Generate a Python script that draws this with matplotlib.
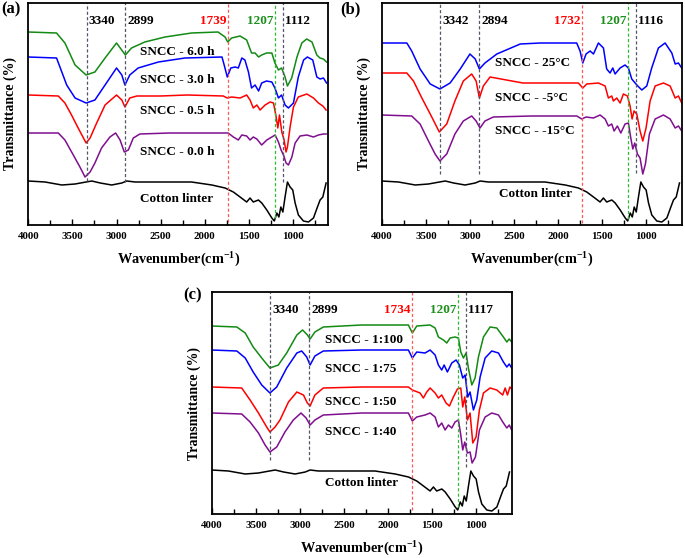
import matplotlib
matplotlib.use("Agg")
import matplotlib.pyplot as plt
from matplotlib.ticker import MultipleLocator

plt.rcParams["font.family"] = ["Liberation Serif", "DejaVu Serif"]
plt.rcParams["font.weight"] = "bold"

# ---- data (wavenumber cm-1, transmittance in arbitrary offset units) ----

# cotton linter, same spectrum in all three panels
cotton_wn = [4000, 3810, 3620, 3470, 3345, 3280, 3185, 3055, 2940, 2885, 2790, 2525, 2150, 1920,
             1770, 1676, 1600, 1525, 1487, 1450, 1392, 1354, 1297, 1240, 1212, 1183, 1160, 1138,
             1115, 1090, 1063, 1033, 1003, 976, 939, 882, 825, 768, 723, 693, 662, 625]
cotton_t = [44, 43, 40, 41, 43, 44, 42, 40, 42, 44, 43, 43, 43, 40,
            37, 33, 28, 23, 27, 23, 25, 22, 15, 7, 4, 12, 8, 18,
            13, 28, 43, 38, 35, 22, 10, 4, 3, 7, 18, 25, 28, 42]

# (a) reaction time
a6h_wn = [4000, 3680, 3585, 3470, 3345, 3245, 3130, 3000, 2900, 2830, 2680, 2450, 2150, 1850, 1770,
          1740, 1695, 1600, 1525, 1470, 1430, 1390, 1355, 1300, 1240, 1205, 1165, 1130, 1090, 1063,
          1015, 955, 900, 845, 785, 730, 695, 655, 620]
a6h_t = [193, 192, 182, 160, 150, 153, 167, 182, 170, 177, 183, 188, 192, 193, 188,
         183, 187, 189, 185, 172, 172, 168, 170, 172, 172, 162, 155, 157, 148, 139,
         147, 168, 182, 186, 183, 170, 167, 166, 163]

a3h_wn = [4000, 3680, 3620, 3565, 3470, 3345, 3245, 3130, 3000, 2940, 2905, 2850, 2755, 2525, 2225,
          1805, 1780, 1745, 1705, 1655, 1620, 1580, 1545, 1505, 1470, 1430, 1390, 1355, 1300, 1240,
          1205, 1165, 1130, 1090, 1052, 995, 940, 880, 837, 776, 730, 693, 655, 620]
a3h_t = [168, 167, 153, 140, 127, 122, 125, 140, 157, 150, 140, 150, 157, 163, 167,
         168, 160, 148, 157, 158, 157, 167, 165, 153, 137, 140, 134, 142, 144, 143,
         137, 127, 130, 120, 117, 122, 148, 165, 168, 165, 148, 146, 147, 142]

a05h_wn = [4000, 3660, 3585, 3510, 3435, 3345, 3300, 3225, 3130, 3000, 2940, 2905, 2850, 2770, 2500,
           2200, 1790, 1745, 1695, 1600, 1525, 1487, 1450, 1410, 1373, 1316, 1260, 1221, 1191, 1172,
           1153, 1127, 1101, 1079, 1063, 1033, 995, 940, 843, 768, 712, 662, 625]
a05h_t = [130, 129, 122, 110, 97, 82, 87, 102, 120, 130, 125, 118, 127, 129, 129,
          130, 129, 127, 128, 127, 130, 125, 117, 120, 115, 120, 123, 122, 108, 97,
          110, 93, 85, 73, 78, 98, 118, 128, 131, 127, 122, 119, 115]

a0h_wn = [4000, 3660, 3585, 3490, 3415, 3357, 3300, 3245, 3170, 3075, 3010, 2960, 2912, 2866, 2810,
          2735, 2400, 2054, 1735, 1676, 1620, 1580, 1525, 1487, 1450, 1410, 1355, 1297, 1240, 1203,
          1165, 1135, 1108, 1079, 1052, 1013, 976, 920, 843, 768, 712, 655, 625]
a0h_t = [92, 92, 85, 70, 58, 48, 53, 62, 77, 88, 92, 85, 73, 75, 87,
         91, 92, 92, 92, 88, 85, 90, 89, 85, 88, 86, 80, 85, 88, 90,
         83, 75, 70, 62, 60, 68, 82, 89, 90, 88, 90, 91, 91]

# (b) temperature
b25_wn = [4000, 3715, 3660, 3565, 3450, 3340, 3225, 3110, 3000, 2940, 2893, 2830, 2695, 2430, 2200,
          1790, 1752, 1721, 1684, 1638, 1600, 1544, 1487, 1450, 1412, 1381, 1355, 1298, 1242, 1204,
          1166, 1128, 1098, 1052, 996, 940, 864, 788, 712, 674, 637, 600]
b25_t = [182, 182, 174, 156, 141, 136, 142, 156, 171, 166, 156, 162, 171, 181, 182,
         182, 174, 162, 171, 174, 171, 182, 177, 156, 152, 157, 151, 157, 160, 157,
         146, 142, 139, 135, 139, 157, 177, 182, 172, 161, 162, 157]

bm5_wn = [4000, 3715, 3640, 3545, 3450, 3347, 3263, 3170, 3075, 2980, 2930, 2893, 2848, 2772, 2400,
          1771, 1721, 1676, 1544, 1468, 1431, 1393, 1374, 1336, 1298, 1261, 1215, 1185, 1162, 1140,
          1109, 1072, 1041, 1004, 958, 901, 807, 731, 674, 637, 600]
bm5_t = [152, 152, 144, 127, 111, 93, 101, 124, 144, 151, 144, 127, 139, 148, 142,
         142, 137, 141, 142, 139, 127, 129, 124, 127, 122, 131, 129, 119, 106, 114,
         111, 94, 84, 97, 124, 139, 142, 139, 127, 129, 122]

bm15_wn = [4000, 3660, 3565, 3470, 3395, 3340, 3263, 3170, 3075, 2980, 2930, 2886, 2830, 2735, 2300,
           1789, 1733, 1684, 1600, 1525, 1468, 1431, 1393, 1366, 1329, 1290, 1242, 1204, 1177, 1154,
           1132, 1102, 1072, 1041, 1011, 966, 901, 807, 731, 674, 637, 600]
bm15_t = [110, 109, 101, 84, 71, 64, 71, 91, 104, 109, 104, 97, 104, 108, 109,
          109, 106, 108, 107, 110, 106, 99, 101, 94, 99, 92, 101, 102, 87, 76,
          82, 71, 67, 51, 61, 91, 106, 110, 106, 97, 99, 94]

# (c) ratio
c100_wn = [4000, 3715, 3620, 3530, 3415, 3340, 3245, 3150, 3035, 2970, 2915, 2885, 2830, 2735, 2300,
           1771, 1726, 1676, 1525, 1468, 1431, 1374, 1336, 1298, 1242, 1204, 1177, 1147, 1117, 1091,
           1052, 1015, 977, 920, 845, 769, 694, 655, 628, 600]
c100_t = [188, 187, 181, 167, 154, 146, 149, 161, 179, 184, 179, 175, 182, 187, 189,
          189, 181, 188, 189, 186, 177, 174, 171, 176, 177, 176, 162, 156, 161, 146,
          129, 136, 157, 177, 187, 186, 177, 172, 175, 172]

c75_wn = [4000, 3715, 3620, 3530, 3433, 3340, 3263, 3150, 3035, 2980, 2923, 2885, 2830, 2735, 2300,
          1771, 1726, 1676, 1582, 1525, 1468, 1431, 1393, 1366, 1329, 1279, 1230, 1193, 1155, 1128,
          1098, 1072, 1034, 996, 958, 901, 826, 750, 694, 655, 628, 600]
c75_t = [164, 163, 156, 142, 129, 121, 127, 146, 161, 163, 157, 149, 158, 163, 164,
         164, 156, 162, 161, 164, 159, 149, 144, 149, 142, 151, 154, 149, 136, 139,
         117, 122, 104, 114, 137, 156, 163, 161, 152, 147, 150, 146]

c50_wn = [4000, 3660, 3565, 3470, 3377, 3340, 3282, 3226, 3130, 3035, 2960, 2916, 2885, 2830, 2735,
          2300, 1771, 1726, 1638, 1601, 1563, 1525, 1468, 1431, 1393, 1344, 1306, 1261, 1215, 1177,
          1155, 1132, 1102, 1072, 1041, 1004, 966, 920, 845, 769, 702, 674, 648, 620, 600]
c50_t = [127, 126, 114, 101, 87, 82, 87, 94, 112, 122, 119, 111, 108, 119, 126,
         127, 127, 124, 121, 116, 122, 126, 121, 116, 119, 111, 108, 117, 125, 126,
         107, 117, 94, 101, 71, 77, 104, 121, 126, 124, 119, 126, 119, 127, 125]

c40_wn = [4000, 3660, 3565, 3470, 3395, 3340, 3263, 3170, 3075, 2988, 2930, 2885, 2830, 2735, 2300,
          1771, 1726, 1676, 1582, 1525, 1468, 1431, 1393, 1355, 1317, 1279, 1242, 1204, 1177, 1155,
          1132, 1102, 1072, 1049, 1011, 966, 901, 826, 750, 694, 655, 628, 600]
c40_t = [101, 100, 92, 81, 69, 62, 67, 82, 94, 101, 96, 89, 94, 99, 101,
         101, 93, 97, 99, 101, 97, 87, 91, 84, 89, 86, 92, 94, 79, 64,
         72, 61, 62, 51, 57, 84, 97, 101, 99, 91, 86, 89, 84]

# labels and marked peaks per panel
a_labels = ["SNCC - 6.0 h", "SNCC - 3.0 h", "SNCC - 0.5 h", "SNCC - 0.0 h"]
b_labels = ["SNCC - 25°C", "SNCC - -5°C", "SNCC - -15°C"]
c_labels = ["SNCC - 1:100", "SNCC - 1:75", "SNCC - 1:50", "SNCC - 1:40"]
a_peaks = [3340, 2899, 1739, 1207, 1112]
b_peaks = [3342, 2894, 1732, 1207, 1116]
c_peaks = [3340, 2899, 1734, 1207, 1117]

GREEN = "#138a13"
BLUE = "#0000ff"
RED = "#ff0000"
PURPLE = "#7f0f8f"
DGRAY = "#555566"
LRED = "#ff5a5a"
LGREEN = "#2ebd2e"

W, H = 685, 558
fig = plt.figure(figsize=(W / 100, H / 100), dpi=100)


def make_ax(left, top, width=300, height=222):
    return fig.add_axes([left / W, 1 - (top + height) / H, width / W, height / H])


def panel(ax, curves, labels, label_y, peaks, peak_ends, lbl_x):
    for (wn, t), c in curves:
        ax.plot(wn, t, color=c, lw=1.1)
    ax.plot(cotton_wn, cotton_t, color="black", lw=1.1)

    # dashed markers at the assigned bands
    colors = [DGRAY, DGRAY, LRED, LGREEN, DGRAY]
    for p, end, c in zip(peaks, peak_ends, colors):
        ax.plot([p, p], [end, 222], color=c, lw=0.9, ls=(0, (2.5, 1.8)))
    ax.text(peaks[0] - 25, 204, str(peaks[0]), ha="left", va="center", fontsize=9.5)
    ax.text(peaks[1] - 25, 204, str(peaks[1]), ha="left", va="center", fontsize=9.5)
    ax.text(peaks[2] + 15, 204, str(peaks[2]), ha="right", va="center", fontsize=9.5, color=RED)
    ax.text(peaks[3] + 15, 204, str(peaks[3]), ha="right", va="center", fontsize=9.5, color="#1a8f1a")
    ax.text(peaks[4] - 20, 204, str(peaks[4]), ha="left", va="center", fontsize=9.5)

    for s, y in zip(labels, label_y):
        ax.text(lbl_x, y, s, ha="left", va="center", fontsize=9.5)

    ax.set_xlim(4000, 600)
    ax.set_ylim(0, 222)
    ax.set_yticks([])
    ax.xaxis.set_major_locator(MultipleLocator(500))
    ax.xaxis.set_minor_locator(MultipleLocator(250))
    ax.tick_params(axis="x", which="both", direction="in", labelsize=7.8, pad=5)
    ax.tick_params(axis="x", which="major", length=4, width=1)
    ax.tick_params(axis="x", which="minor", length=3.5, width=1)
    for lab in ax.get_xticklabels():
        lab.set_fontweight("bold")
    for sp in ax.spines.values():
        sp.set_linewidth(1.3)
    ax.set_xlabel("Wavenumber(cm$^{\\mathregular{-1}}$)", fontsize=10.3, fontweight="bold", labelpad=6)
    ax.set_ylabel("Transmittance (%)", fontsize=10, fontweight="bold", labelpad=8)


ax_a = make_ax(28.3, 3)
panel(ax_a,
      [((a6h_wn, a6h_t), GREEN), ((a3h_wn, a3h_t), BLUE), ((a05h_wn, a05h_t), RED), ((a0h_wn, a0h_t), PURPLE)],
      a_labels, [173, 145, 114, 73], a_peaks, [44, 43, 3, 7, 43], 2735)
ax_a.text(2735, 26, "Cotton linter", ha="left", va="center", fontsize=9.5)

ax_b = make_ax(381.7, 3)
panel(ax_b,
      [((b25_wn, b25_t), BLUE), ((bm5_wn, bm5_t), RED), ((bm15_wn, bm15_t), PURPLE)],
      b_labels, [162, 127, 94], b_peaks, [51, 51, 2, 6, 52], 2715)
ax_b.text(2670, 31, "Cotton linter", ha="left", va="center", fontsize=9.5)

ax_c = make_ax(211.7, 292)
panel(ax_c,
      [((c100_wn, c100_t), GREEN), ((c75_wn, c75_t), BLUE), ((c50_wn, c50_t), RED), ((c40_wn, c40_t), PURPLE)],
      c_labels, [174, 145, 112, 82], c_peaks, [54, 54, 4, 7, 47], 2715)
ax_c.text(2715, 31, "Cotton linter", ha="left", va="center", fontsize=9.5)

fig.text(1 / W, 1 - 9 / H, "(a)", fontsize=12, fontweight="bold", va="center", ha="left")
fig.text(340 / W, 1 - 9 / H, "(b)", fontsize=12, fontweight="bold", va="center", ha="left")
fig.text(183 / W, 1 - 295 / H, "(c)", fontsize=12, fontweight="bold", va="center", ha="left")

fig.savefig("out.png", dpi=100)
